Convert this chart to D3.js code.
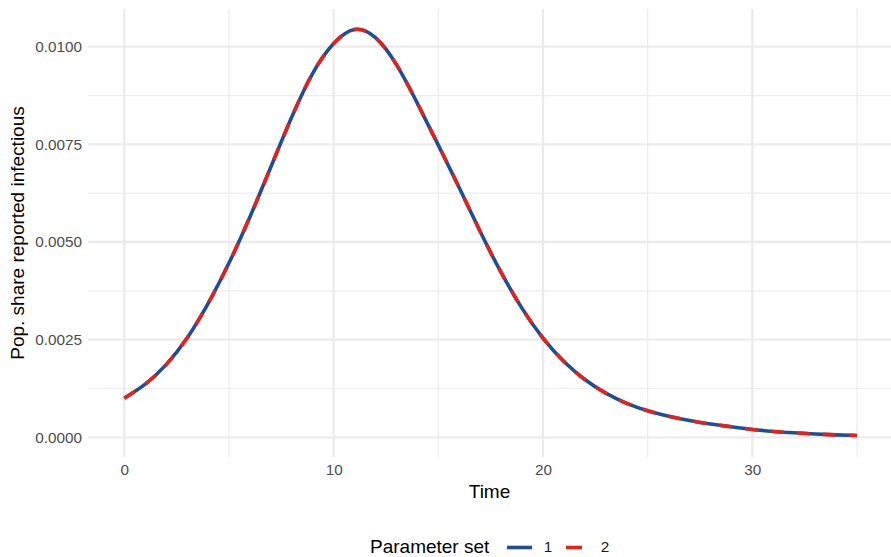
<!DOCTYPE html>
<html>
<head>
<meta charset="utf-8">
<script src="https://cdn.jsdelivr.net/npm/d3@7"></script>
<style>
  html, body { margin: 0; padding: 0; background: #fff; }
  svg { display: block; font-family: "Liberation Sans", Arial, sans-serif; }
</style>
</head>
<body>
<svg id="chart" width="891" height="557"></svg>
<script>
// ---- data ----
const times = [0,1,2,3,4,5,6,7,8,9,10,11,12,13,14,15,16,17,18,19,20,21,22,23,24,25,26,27,28,29,30,31,32,33,34,35];
const share = [0.00100,0.00136,0.00186,0.00254,0.00342,0.00446,0.00564,0.00692,0.00820,0.00932,
               0.01008,0.01044,0.01023,0.00954,0.00855,0.00748,0.00639,0.00527,0.00422,0.00330,
               0.00254,0.00194,0.00148,0.00113,0.00087,0.00068,0.00054,0.00043,0.00034,0.00027,
               0.00020,0.00015,0.000115,0.000085,0.000062,0.000045];
const seriesNames = ["1", "2"];
const seriesColors = ["#1f4e99", "#e2231d"];
const xTicks = [0, 10, 20, 30];
const xMinor = [5, 15, 25, 35];
const yTicks = [0, 0.0025, 0.005, 0.0075, 0.01];
const yMinor = [0.00125, 0.00375, 0.00625, 0.00875];

// ---- layout ----
const svg = d3.select("#chart");
const panel = {left: 88, right: 891, top: 9, bottom: 457};
const x = d3.scaleLinear().domain([0, 35]).range([124.3, 857]);
const y = d3.scaleLinear().domain([0, 0.01]).range([437.3, 46.7]);

const grid = "#ebebeb";
// minor grid
svg.append("g").selectAll("line").data(yMinor).join("line")
  .attr("x1", panel.left).attr("x2", panel.right)
  .attr("y1", d => y(d)).attr("y2", d => y(d))
  .attr("stroke", grid).attr("stroke-width", 1.2);
svg.append("g").selectAll("line").data(xMinor).join("line")
  .attr("y1", panel.top).attr("y2", panel.bottom)
  .attr("x1", d => x(d)).attr("x2", d => x(d))
  .attr("stroke", grid).attr("stroke-width", 1.2);
// major grid
svg.append("g").selectAll("line").data(yTicks).join("line")
  .attr("x1", panel.left).attr("x2", panel.right)
  .attr("y1", d => y(d)).attr("y2", d => y(d))
  .attr("stroke", grid).attr("stroke-width", 2.3);
svg.append("g").selectAll("line").data(xTicks).join("line")
  .attr("y1", panel.top).attr("y2", panel.bottom)
  .attr("x1", d => x(d)).attr("x2", d => x(d))
  .attr("stroke", grid).attr("stroke-width", 2.3);

// axes
const yAxis = svg.append("g").attr("transform", `translate(${panel.left},0)`)
  .call(d3.axisLeft(y).tickValues(yTicks).tickFormat(d3.format(".4f")).tickSize(0).tickPadding(6));
const xAxis = svg.append("g").attr("transform", `translate(0,${panel.bottom})`)
  .call(d3.axisBottom(x).tickValues(xTicks).tickFormat(d3.format("d")).tickSize(0).tickPadding(7));
[yAxis, xAxis].forEach(a => {
  a.select(".domain").remove();
  a.selectAll("text").attr("fill", "#4d4d4d").style("font-size", "15.3px")
    .style("font-family", "'Liberation Sans', Arial, sans-serif");
});

// axis titles
svg.append("text").attr("x", (panel.left + panel.right) / 2).attr("y", 498)
  .attr("text-anchor", "middle").style("font-size", "19px").attr("fill", "#000").text("Time");
svg.append("text").attr("transform", `translate(24,${(panel.top + panel.bottom) / 2}) rotate(-90)`)
  .attr("text-anchor", "middle").style("font-size", "19px").attr("fill", "#000")
  .text("Pop. share reported infectious");

// lines
const pts = times.map((t, i) => [t, share[i]]);
const line = d3.line().x(d => x(d[0])).y(d => y(d[1])).curve(d3.curveNatural);
svg.append("clipPath").attr("id", "pc").append("rect")
  .attr("x", panel.left).attr("y", panel.top)
  .attr("width", panel.right - panel.left).attr("height", panel.bottom - panel.top);
const lg = svg.append("g").attr("clip-path", "url(#pc)");
lg.append("path").datum(pts).attr("d", line).attr("fill", "none")
  .attr("stroke", seriesColors[0]).attr("stroke-width", 3.6);
lg.append("path").datum(pts).attr("d", line).attr("fill", "none")
  .attr("stroke", seriesColors[1]).attr("stroke-width", 3.6)
  .attr("stroke-dasharray", "13,13");

// legend
const legY = 547.5;
const leg = svg.append("g");
leg.append("text").attr("x", 370).attr("y", legY - 1.3).attr("dy", "0.35em")
  .style("font-size", "19px").attr("fill", "#000").text("Parameter set");
const keyX = [507, 566];
const keyLen = [25, 16];
const labX = [548, 605];
seriesNames.forEach((s, i) => {
  leg.append("line").attr("x1", keyX[i]).attr("x2", keyX[i] + keyLen[i])
    .attr("y1", legY).attr("y2", legY)
    .attr("stroke", seriesColors[i]).attr("stroke-width", 3.6);
  leg.append("text").attr("x", labX[i]).attr("y", legY - 0.5).attr("dy", "0.35em")
    .attr("text-anchor", "middle").style("font-size", "15.3px").attr("fill", "#1a1a1a").text(s);
});
</script>
</body>
</html>
